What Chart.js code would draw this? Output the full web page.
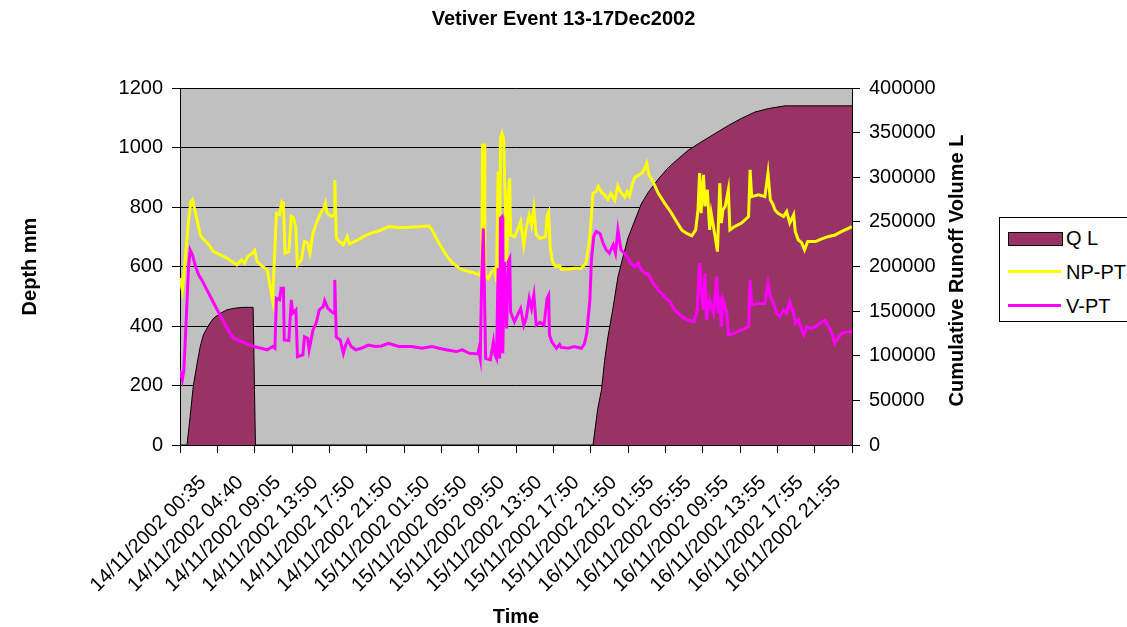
<!DOCTYPE html>
<html>
<head>
<meta charset="utf-8">
<script src="https://cdn.jsdelivr.net/npm/chart.js@4.4.0/dist/chart.umd.min.js"></script>
<style>
html,body{margin:0;padding:0;background:#fff;}
#wrap{position:relative;width:1127px;height:627px;overflow:hidden;}
canvas{display:block;}
#legend{position:absolute;left:999px;top:217px;width:140px;height:103px;border:1px solid #000;background:#fff;font:20px "Liberation Sans",Arial,sans-serif;color:#000;}
#legend .sw{position:absolute;left:8px;width:53px;}
#legend .box{top:14px;height:12px;background:#993366;border:1px solid #000;}
#legend .ln{height:3px;}
#legend .lt{position:absolute;left:66px;line-height:24px;}
</style>
</head>
<body>
<div id="wrap">
<canvas id="c" width="1127" height="627"></canvas>
<div id="legend">
  <div class="sw box"></div><div class="lt" style="top:8px">Q L</div>
  <div class="sw ln" style="top:52px;background:#FFFF00"></div><div class="lt" style="top:42px">NP-PT</div>
  <div class="sw ln" style="top:86px;background:#FF00FF"></div><div class="lt" style="top:76px">V-PT</div>
</div>
</div>
<script>
const tickLabels = ["14/11/2002 00:35","14/11/2002 04:40","14/11/2002 09:05","14/11/2002 13:50","14/11/2002 17:50","14/11/2002 21:50","15/11/2002 01:50","15/11/2002 05:50","15/11/2002 09:50","15/11/2002 13:50","15/11/2002 17:50","15/11/2002 21:50","16/11/2002 01:55","16/11/2002 05:55","16/11/2002 09:55","16/11/2002 13:55","16/11/2002 17:55","16/11/2002 21:55"];

// sample index (5-minute records) and NP-PT depth (mm)
const npptIndex = [0,3,6,11,14,16,18,22,26,30,37,43,52,60,69,73,79,83,87,93,96,99,104,112,116,119,121,124,128,131,133,135,140,143,146,149,151,156,160,164,167,171,176,181,185,187,189,195,198,199,201,205,210,215,218,227,236,246,257,268,281,294,307,320,324,333,342,350,359,367,376,385,386,388,389,391,392,396,401,405,407,409,411,412,414,416,418,420,422,424,425,430,435,438,442,445,449,452,455,458,463,470,472,474,476,479,483,488,490,499,507,516,522,527,531,535,538,542,546,550,554,559,563,567,572,575,578,582,585,590,594,597,600,603,608,615,623,632,637,645,651,658,663,666,668,670,673,675,678,681,683,688,691,694,696,698,701,705,707,713,722,731,733,735,744,752,756,759,762,765,769,776,780,784,789,791,795,799,803,807,817,825,834,842,851,860,864];
const npptDepth = [561,521,600,757,818,824,802,757,706,692,673,650,639,628,613,605,622,611,633,645,654,617,605,589,533,488,605,779,774,818,813,645,650,768,763,729,605,622,684,680,645,712,751,781,796,813,779,768,774,891,695,684,673,701,676,687,701,712,721,734,731,732,734,737,723,678,639,613,594,586,580,572,577,594,1008,1008,571,560,583,594,549,919,583,1031,1048,1031,840,616,840,896,706,700,728,751,672,728,773,739,795,706,695,700,773,784,661,616,599,603,591,591,594,594,611,701,846,852,869,849,841,826,846,822,871,849,833,852,837,880,900,908,914,927,947,908,886,846,813,779,757,723,712,703,723,790,914,779,908,802,858,723,779,701,650,880,746,790,802,858,723,734,746,768,925,835,841,835,914,824,811,790,779,768,785,746,774,718,689,681,656,684,684,693,701,706,718,729,734];

// sample index and V-PT depth (mm)
const vptIndex = [0,3,5,8,11,13,16,20,24,28,32,39,48,56,63,69,78,86,95,104,112,119,122,124,128,130,133,134,140,143,145,149,151,158,160,164,166,171,175,179,184,186,190,195,198,199,201,206,210,213,216,220,226,233,242,251,259,268,281,298,311,324,333,342,355,363,372,383,384,386,388,390,391,393,399,403,405,407,409,411,412,414,415,417,420,422,424,425,430,434,438,442,445,449,452,455,458,463,468,472,474,475,478,484,488,490,499,507,516,520,523,527,529,532,535,540,544,548,552,557,560,563,567,572,576,580,585,589,593,598,602,606,610,615,619,623,630,636,645,653,661,665,668,671,673,675,677,681,686,690,692,694,696,698,703,705,713,722,731,733,735,744,752,756,759,763,767,771,776,780,784,789,791,795,802,806,810,817,823,829,834,838,842,847,851,860,864];
const vptDepth = [252,219,252,420,600,656,639,600,572,555,535,499,454,415,381,359,348,340,331,325,320,331,325,493,488,527,527,353,351,488,443,454,297,303,364,359,320,387,409,454,465,485,460,448,443,555,362,353,308,336,353,331,320,325,336,331,333,342,331,331,325,331,325,320,314,320,308,306,319,291,571,728,571,291,286,347,303,291,594,291,762,767,308,616,392,616,627,448,414,437,459,403,426,493,459,504,403,412,403,493,504,370,347,325,338,328,325,331,325,340,376,488,622,701,718,710,678,656,645,673,645,723,656,642,628,609,600,611,589,577,575,555,538,521,510,497,482,454,432,420,415,454,611,499,454,577,420,488,443,566,443,499,398,488,443,370,376,387,398,555,471,476,476,544,499,476,443,432,454,443,482,443,409,420,370,398,392,398,409,420,398,376,342,364,376,381,381];

// sample index and cumulative runoff volume Q (L)
const qlIndex = [0,9,13,17,22,26,30,37,43,52,60,69,80,94,97,531,537,542,546,550,557,563,570,576,585,593,602,615,628,641,653,671,688,705,722,739,757,778,864];
const qlVolume = [0,0,31700,65400,91500,110200,123200,134400,141900,147500,151300,153100,154200,154200,0,0,40000,62000,95000,120000,155000,188000,212000,232000,252000,270000,283000,298000,311000,321000,330000,340000,349000,358000,366000,373000,377000,380000,380000];

const xMax = 864, xStep = 48;
const FONT = '"Liberation Sans", Arial, sans-serif';

function pts(xs, ys){ return xs.map((x,i)=>({x:x, y:ys[i]})); }

const plotBg = {
  id:'plotBg',
  beforeDraw(chart){
    const {ctx, chartArea:a} = chart;
    ctx.save(); ctx.fillStyle = '#C0C0C0';
    ctx.fillRect(a.left, a.top, a.right-a.left, a.bottom-a.top);
    ctx.restore();
  }
};
const rightTitle = {
  id:'rightTitle',
  afterDraw(chart){
    const {ctx, chartArea:a} = chart;
    ctx.save();
    ctx.translate(a.right + 105, (a.top + a.bottom)/2 + 4);
    ctx.rotate(-Math.PI/2);
    ctx.font = 'bold 20px ' + FONT;
    ctx.fillStyle = '#000'; ctx.textAlign = 'center'; ctx.textBaseline = 'middle';
    ctx.fillText('Cumulative Runoff Volume L', 0, 0);
    ctx.restore();
  }
};

new Chart(document.getElementById('c'), {
  type: 'line',
  data: {
    datasets: [
      {label:'V-PT', data: pts(vptIndex, vptDepth), borderColor:'#FF00FF', borderWidth:3, pointRadius:0, tension:0, fill:false, yAxisID:'y', order:1},
      {label:'NP-PT', data: pts(npptIndex, npptDepth), borderColor:'#FFFF00', borderWidth:3, pointRadius:0, tension:0, fill:false, yAxisID:'y', order:2},
      {label:'Q L', data: pts(qlIndex, qlVolume), borderColor:'#000000', borderWidth:1, backgroundColor:'#993366', pointRadius:0, tension:0, fill:'origin', yAxisID:'y2', order:3}
    ]
  },
  options: {
    responsive:false, animation:false, devicePixelRatio:1,
    layout:{padding:{left:0,right:0,top:0,bottom:0}},
    plugins:{
      legend:{display:false}, tooltip:{enabled:false},
      title:{display:true, text:'Vetiver Event 13-17Dec2002', color:'#000', font:{family:FONT, size:20, weight:'bold'}, padding:{top:7, bottom:57}}
    },
    scales:{
      x:{
        type:'linear', min:0, max:xMax,
        afterFit(s){ s.height = 182; },
        ticks:{stepSize:xStep, maxTicksLimit:100, autoSkip:false, minRotation:45, maxRotation:45, color:'#000', font:{family:FONT, size:20}, labelOffset:23, padding:18,
          callback:(v)=> tickLabels[Math.round(v/xStep)] || ''},
        grid:{drawOnChartArea:false, drawTicks:true, tickLength:8, tickColor:'#000'},
        border:{display:true, color:'#000', width:1},
        title:{display:true, text:'Time', color:'#000', font:{family:FONT, size:20, weight:'bold'}, padding:{top:0,bottom:-2}}
      },
      y:{
        position:'left', min:0, max:1200,
        afterFit(s){ s.width = 180; },
        ticks:{stepSize:200, color:'#000', font:{family:FONT, size:20}, padding:9, callback:(v)=>String(v)},
        grid:{color:'#000', lineWidth:1, drawTicks:true, tickLength:8, tickColor:'#000'},
        border:{display:true, color:'#000', width:1},
        title:{display:true, text:'Depth mm', color:'#000', font:{family:FONT, size:20, weight:'bold'}, padding:{top:18,bottom:0}}
      },
      y2:{
        position:'right', min:0, max:400000,
        afterFit(s){ s.width = 275; },
        ticks:{stepSize:50000, color:'#000', font:{family:FONT, size:20}, padding:9, callback:(v)=>String(v)},
        grid:{drawOnChartArea:false, drawTicks:true, tickLength:8, tickColor:'#000'},
        border:{display:true, color:'#000', width:1}
      }
    }
  },
  plugins:[plotBg, rightTitle]
});
</script>
</body>
</html>
